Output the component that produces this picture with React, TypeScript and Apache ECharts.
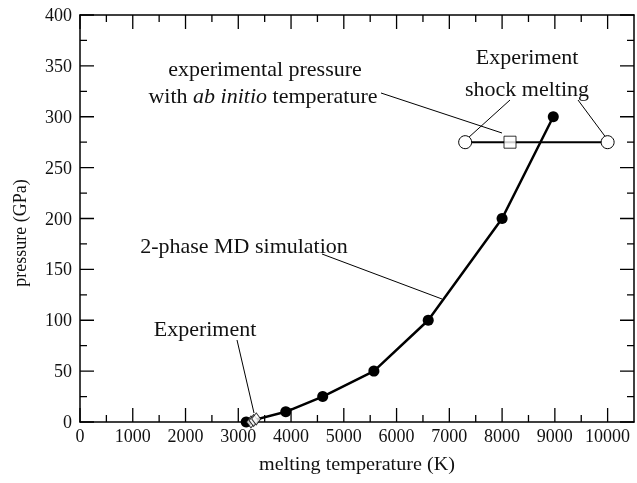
import React, { useEffect, useRef } from "react";
import * as echarts from "echarts";

// 2-phase MD simulation (melting temperature K, pressure GPa)
const mdTemp = [3150, 3900, 4600, 5570, 6600, 8000, 8970];
const mdPress = [0, 10, 25, 50, 100, 200, 300];
// low-pressure experiment (open diamonds)
const expTemp = [3240, 3290, 3340];
const expPress = [0, 1.5, 3];
// shock melting experiment (open circles joined by a bar)
const shockTemp = [7300, 10000];
const shockPress = [275, 275];
// experimental pressure with ab initio temperature (open square)
const abTemp = [8150];
const abPress = [275];

const xTicks = [0, 1000, 2000, 3000, 4000, 5000, 6000, 7000, 8000, 9000, 10000];
const yTicks = [0, 50, 100, 150, 200, 250, 300, 350, 400];
const X_MAX = 10500;
const Y_MAX = 400;

const FONT = "'Liberation Serif', 'Times New Roman', Times, serif";
const W = 637;
const H = 483;
const G = { left: 80, right: 3, top: 15, bottom: 61 };

function makeAxis(min: number, max: number, interval: number, position: string, labels: any) {
  return {
    type: "value",
    min,
    max,
    interval,
    position,
    axisLine: { show: true, onZero: false, lineStyle: { color: "#000", width: 1.5 } },
    axisTick: { show: false },
    minorTick: { show: false },
    splitLine: { show: false },
    minorSplitLine: { show: false },
    axisLabel: labels,
  };
}

export default function App() {
  const ref = useRef<HTMLDivElement>(null);
  useEffect(() => {
    if (!ref.current) return;
    const chart = echarts.init(ref.current, undefined, { renderer: "svg" });
    const md = mdTemp.map((t, i) => [t, mdPress[i]]);
    const exp = expTemp.map((t, i) => [t, expPress[i]]);
    const shock = shockTemp.map((t, i) => [t, shockPress[i]]);
    const ab = abTemp.map((t, i) => [t, abPress[i]]);

    // tick lengths converted from pixels into axis units
    const plotW = W - G.left - G.right;
    const plotH = H - G.top - G.bottom;
    const kx = X_MAX / plotW;
    const ky = Y_MAX / plotH;
    const xMinor = xTicks.slice(0, -1).map((v, i) => (v + xTicks[i + 1]) / 2);
    const yMinor = yTicks.slice(0, -1).map((v, i) => (v + yTicks[i + 1]) / 2);
    const tickData: any[] = [];
    const seg = (a: number[], b: number[]) => tickData.push(a, b, [b[0], "-"]);
    const addX = (v: number, lenPx: number) => {
      seg([v, 0], [v, lenPx * ky]);
      seg([v, Y_MAX], [v, Y_MAX - lenPx * ky]);
    };
    const addY = (v: number, lenPx: number) => {
      seg([0, v], [lenPx * kx, v]);
      seg([X_MAX, v], [X_MAX - lenPx * kx, v]);
    };
    xTicks.forEach((v) => addX(v, 14));
    xMinor.forEach((v) => addX(v, 7));
    yTicks.forEach((v) => addY(v, 14));
    yMinor.forEach((v) => addY(v, 7));

    const txt = (x: number, y: number, text: string, size = 20, sx = 1.1, extra: any = {}) => ({
      type: "text",
      x,
      y,
      scaleX: sx,
      style: {
        text,
        fontFamily: FONT,
        fontSize: size,
        fill: "#111",
        align: "center",
        verticalAlign: "middle",
        ...extra,
      },
    });
    const ln = (x1: number, y1: number, x2: number, y2: number) => ({
      type: "line",
      shape: { x1, y1, x2, y2 },
      style: { stroke: "#000", lineWidth: 1 },
    });

    chart.setOption({
      animation: false,
      textStyle: { fontFamily: FONT },
      grid: { ...G, containLabel: false },
      xAxis: [
        makeAxis(0, X_MAX, 1000, "bottom", {
          show: true,
          color: "#111",
          fontFamily: FONT,
          fontSize: 18,
          margin: 5,
          formatter: (v: number) => (xTicks.includes(v) ? String(v) : ""),
        }),
        makeAxis(0, X_MAX, 1000, "top", { show: false }),
      ],
      yAxis: [
        makeAxis(0, Y_MAX, 50, "left", {
          show: true,
          color: "#111",
          fontFamily: FONT,
          fontSize: 18,
          margin: 8,
          formatter: (v: number) => (yTicks.includes(v) ? String(v) : ""),
        }),
        makeAxis(0, Y_MAX, 50, "right", { show: false }),
      ],
      series: [
        {
          type: "line",
          name: "ticks",
          data: tickData,
          symbol: "none",
          connectNulls: false,
          silent: true,
          clip: false,
          lineStyle: { color: "#000", width: 1.3 },
          z: 1,
        },
        {
          type: "line",
          data: md,
          symbol: "circle",
          symbolSize: 11,
          itemStyle: { color: "#000" },
          lineStyle: { color: "#000", width: 2.5 },
          z: 3,
        },
        {
          type: "line",
          data: shock,
          symbol: "circle",
          symbolSize: 13,
          itemStyle: { color: "#fff", borderColor: "#000", borderWidth: 1 },
          lineStyle: { color: "#000", width: 2 },
          z: 2,
        },
        {
          type: "scatter",
          data: ab,
          symbol: "rect",
          symbolSize: 12,
          itemStyle: { color: "#fff", borderColor: "#000", borderWidth: 1 },
          z: 4,
        },
        {
          type: "scatter",
          data: exp,
          symbol: "diamond",
          symbolSize: [9, 12],
          itemStyle: { color: "#fff", borderColor: "#000", borderWidth: 1 },
          z: 4,
        },
      ],
      graphic: [
        txt(265, 69, "experimental pressure"),
        txt(263, 96, "with {i|ab initio} temperature", 20, 1.1, {
          rich: { i: { fontFamily: FONT, fontSize: 20, fontStyle: "italic", fill: "#111" } },
        }),
        txt(527, 57, "Experiment"),
        txt(527, 89, "shock melting"),
        txt(244, 246, "2-phase MD simulation"),
        txt(205, 329, "Experiment"),
        ln(381, 93, 502, 133),
        ln(510, 100, 468, 138),
        ln(578, 100, 607, 139),
        ln(322, 254, 442, 299),
        ln(237, 340, 254, 413),
        txt(357, 464, "melting temperature (K)", 18, 1.12),
        {
          type: "text",
          x: 20,
          y: 233,
          rotation: Math.PI / 2,
          style: {
            text: "pressure (GPa)",
            fontFamily: FONT,
            fontSize: 18,
            fill: "#111",
            align: "center",
            verticalAlign: "middle",
          },
        },
      ],
    });
    return () => chart.dispose();
  }, []);
  return <div ref={ref} style={{ position: "fixed", left: 0, top: 0, width: W, height: H }} />;
}
